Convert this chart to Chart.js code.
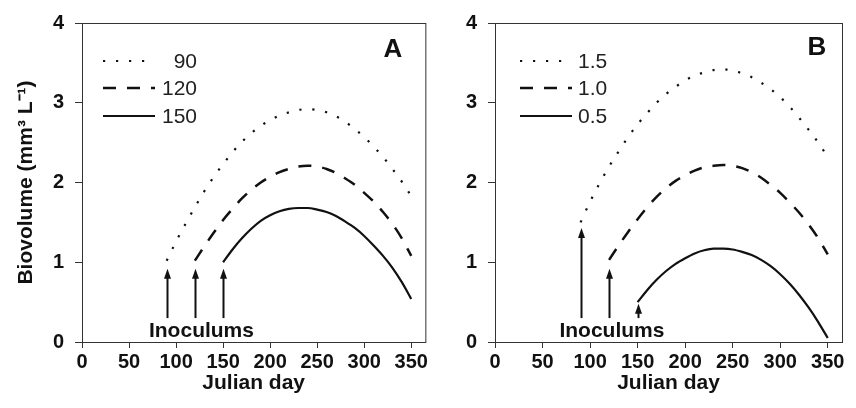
<!DOCTYPE html>
<html>
<head>
<meta charset="utf-8">
<script src="https://cdn.jsdelivr.net/npm/chart.js@4.4.1/dist/chart.umd.min.js"></script>
<style>
html, body { margin: 0; padding: 0; background: #fff; }
#wrap { position: relative; width: 856px; height: 408px; }
.panel { position: absolute; top: 0; height: 408px; }
</style>
</head>
<body>
<div id="wrap">
  <div class="panel" style="left:0;width:430px"><canvas id="chartA"></canvas></div>
  <div class="panel" style="left:430px;width:426px"><canvas id="chartB"></canvas></div>
</div>
<script>
// axis ticks
const xTicks = [0, 50, 100, 150, 200, 250, 300, 350];
const yTicks = [0, 1, 2, 3, 4];

// julian days of each series (starting at the inoculum day)
const days90 = [90, 100, 110, 120, 130, 140, 150, 160, 170, 180, 190, 200, 210, 220, 230, 240, 250, 260, 270, 280, 290, 300, 310, 320, 330, 340, 350];
const days120 = [120, 130, 140, 150, 160, 170, 180, 190, 200, 210, 220, 230, 240, 250, 260, 270, 280, 290, 300, 310, 320, 330, 340, 350];
const days150 = [150, 160, 170, 180, 190, 200, 210, 220, 230, 240, 250, 260, 270, 280, 290, 300, 310, 320, 330, 340, 350];

// panel A : inoculum day
const labelsA = ['90', '120', '150'];
const a90 = [1.02, 1.26, 1.48, 1.69, 1.89, 2.07, 2.23, 2.38, 2.51, 2.62, 2.71, 2.78, 2.84, 2.88, 2.91, 2.92, 2.91, 2.88, 2.83, 2.76, 2.67, 2.57, 2.45, 2.32, 2.17, 2.01, 1.83];
const a120 = [1.02, 1.20, 1.37, 1.53, 1.67, 1.80, 1.91, 2.00, 2.07, 2.13, 2.17, 2.20, 2.21, 2.20, 2.17, 2.12, 2.05, 1.97, 1.87, 1.76, 1.63, 1.48, 1.30, 1.08];
const a150 = [1.00, 1.16, 1.30, 1.42, 1.52, 1.59, 1.64, 1.67, 1.68, 1.68, 1.66, 1.63, 1.58, 1.51, 1.43, 1.33, 1.21, 1.08, 0.93, 0.75, 0.54];

// panel B : inoculum size
const labelsB = ['1.5', '1.0', '0.5'];
const b15 = [1.50, 1.76, 1.99, 2.20, 2.39, 2.57, 2.73, 2.87, 3.00, 3.11, 3.20, 3.28, 3.34, 3.38, 3.41, 3.42, 3.40, 3.37, 3.32, 3.25, 3.17, 3.07, 2.95, 2.81, 2.66, 2.50, 2.32];
const b10 = [1.03, 1.21, 1.38, 1.54, 1.69, 1.82, 1.93, 2.02, 2.09, 2.15, 2.19, 2.21, 2.22, 2.21, 2.18, 2.13, 2.06, 1.97, 1.87, 1.75, 1.62, 1.47, 1.30, 1.10];
const b05 = [0.50, 0.65, 0.78, 0.89, 0.98, 1.05, 1.11, 1.15, 1.17, 1.17, 1.16, 1.13, 1.09, 1.03, 0.95, 0.85, 0.73, 0.59, 0.43, 0.25, 0.05];

// inoculum arrows: day, bottom value, tip value
const arrowDays = [90, 120, 150];
const arrowBase = [0.3, 0.3, 0.3];
const arrowTipA = [0.92, 0.92, 0.92];
const arrowTipB = [1.43, 0.92, 0.48];

const ink = '#111';
const family = '"Liberation Sans", Arial, sans-serif';
const styles = [
  { borderDash: [2.2, 10.8], borderWidth: 2.2 },
  { borderDash: [13, 11], borderWidth: 2.5 },
  { borderDash: [], borderWidth: 2.2 }
];

function pts(days, vals) {
  return days.map((d, i) => ({ x: d, y: vals[i] }));
}

function makeDatasets(labels, series) {
  return series.map((s, i) => ({
    label: labels[i],
    data: pts(s[0], s[1]),
    borderColor: ink,
    borderWidth: styles[i].borderWidth,
    borderDash: styles[i].borderDash,
    borderCapStyle: 'butt',
    pointRadius: 0,
    fill: false,
    cubicInterpolationMode: 'monotone'
  }));
}

// frame, arrows, texts and legend
function decorPlugin(opt) {
  return {
    id: 'decor',
    beforeDatasetsDraw(chart) {
      const ctx = chart.ctx, a = chart.chartArea;
      ctx.save();
      ctx.strokeStyle = '#333';
      ctx.lineWidth = 1;
      ctx.strokeRect(a.left + 0.5, a.top + 0.5, a.right - a.left, a.bottom - a.top);
      ctx.restore();
    },
    afterDatasetsDraw(chart) {
      const ctx = chart.ctx;
      const xs = chart.scales.x, ys = chart.scales.y;
      ctx.save();
      ctx.fillStyle = ink;
      ctx.strokeStyle = ink;
      // arrows
      arrowDays.forEach((d, i) => {
        const px = Math.round(xs.getPixelForValue(d)) + 0.5;
        const y0 = ys.getPixelForValue(arrowBase[i]);
        const y1 = ys.getPixelForValue(opt.tips[i]);
        ctx.lineWidth = 2;
        ctx.beginPath();
        ctx.moveTo(px, y0);
        ctx.lineTo(px, y1 + 8);
        ctx.stroke();
        ctx.beginPath();
        ctx.moveTo(px, y1);
        ctx.lineTo(px - 3.5, y1 + 10);
        ctx.lineTo(px + 3.5, y1 + 10);
        ctx.closePath();
        ctx.fill();
      });
      // Inoculums text
      ctx.font = 'bold 21px ' + family;
      ctx.textAlign = 'center';
      ctx.textBaseline = 'middle';
      ctx.fillText('Inoculums', xs.getPixelForValue(opt.inocDay), ys.getPixelForValue(0.13));
      // panel letter
      ctx.font = 'bold 26px ' + family;
      ctx.fillText(opt.letter, opt.letterPos[0], opt.letterPos[1]);
      // legend
      const rows = [61, 88, 116];
      chart.data.datasets.forEach((ds, i) => {
        const y = rows[i];
        ctx.save();
        ctx.lineWidth = ds.borderWidth;
        ctx.setLineDash(ds.borderDash);
        ctx.beginPath();
        ctx.moveTo(opt.legX[0], y);
        ctx.lineTo(opt.legX[1], y);
        ctx.stroke();
        ctx.restore();
        ctx.font = '21px ' + family;
        ctx.fillStyle = '#222';
        ctx.textAlign = opt.legAlign;
        ctx.fillText(ds.label, opt.legX[2], y + 1);
        ctx.fillStyle = ink;
      });
      ctx.restore();
    }
  };
}

function makeChart(id, datasets, opt) {
  const tickFont = { family: family, size: 20, weight: 'bold' };
  const titleFont = { family: family, size: 21, weight: 'bold' };
  return new Chart(document.getElementById(id), {
    type: 'line',
    data: { datasets: datasets },
    options: {
      responsive: true,
      maintainAspectRatio: false,
      animation: false,
      layout: { padding: { left: 0, right: opt.padRight, top: 20, bottom: 0 } },
      plugins: { legend: { display: false }, tooltip: { enabled: false } },
      scales: {
        x: {
          type: 'linear',
          min: 0,
          max: 365,
          afterBuildTicks: s => { s.ticks = xTicks.map(v => ({ value: v })); },
          afterFit: s => { s.height = 66; },
          ticks: { font: tickFont, color: ink, padding: 2, maxRotation: 0 },
          grid: { drawOnChartArea: false, drawTicks: true, tickLength: 6, color: '#333' },
          border: { display: true, color: '#333', width: 1 },
          title: {
            display: true,
            text: 'Julian day',
            color: ink,
            font: titleFont,
            padding: { top: 12, bottom: 12 }
          }
        },
        y: {
          min: 0,
          max: 4,
          afterBuildTicks: s => { s.ticks = yTicks.map(v => ({ value: v })); },
          afterFit: s => { s.width = opt.yWidth; },
          ticks: { font: tickFont, color: ink, padding: 11 },
          grid: { drawOnChartArea: false, drawTicks: true, tickLength: 7, color: '#333' },
          border: { display: true, color: '#333', width: 1 },
          title: {
            display: opt.yTitle,
            text: 'Biovolume (mm³ L⁻¹)',
            color: ink,
            font: titleFont,
            padding: { top: 14, bottom: 14 }
          }
        }
      }
    },
    plugins: [decorPlugin(opt)]
  });
}

makeChart('chartA', makeDatasets(labelsA, [[days90, a90], [days120, a120], [days150, a150]]), {
  padRight: 2, yWidth: 82, yTitle: true,
  tips: arrowTipA, inocDay: 127,
  letter: 'A', letterPos: [393, 50],
  legX: [103, 155, 197], legAlign: 'right'
});

makeChart('chartB', makeDatasets(labelsB, [[days90, b15], [days120, b10], [days150, b05]]), {
  padRight: 14, yWidth: 65, yTitle: false,
  tips: arrowTipB, inocDay: 123,
  letter: 'B', letterPos: [387, 48],
  legX: [90, 142, 148], legAlign: 'left'
});
</script>
</body>
</html>
